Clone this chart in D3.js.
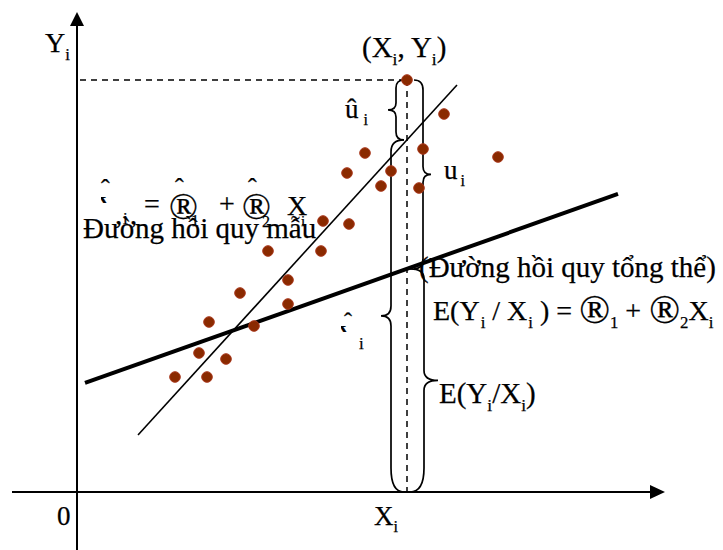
<!DOCTYPE html>
<html>
<head>
<meta charset="utf-8">
<script src="https://cdn.jsdelivr.net/npm/d3@7"></script>
<style>
  html, body { margin: 0; padding: 0; background: #fff; }
  svg { display: block; }
  text { font-family: "Liberation Serif", "Times New Roman", serif; fill: #000; stroke: #000; stroke-width: 0.25; }
</style>
</head>
<body>
<svg id="chart" width="723" height="550"></svg>
<script>
// Observed sample (X, Y) pairs
const sampleX = [330, 367, 288, 346, 421, 270, 314, 304, 342, 246, 272, 191, 244, 211, 163, 211, 132, 177, 122, 149, 98, 130];
const sampleY = [412, 378, 339, 343, 335, 319, 321, 306, 304, 271, 268, 241, 241, 212, 199, 188, 170, 166, 139, 133, 115, 115];

// Sample regression line (fitted) and population regression line
const sampleLineCoef = [-9.9, 1.097];      // intercept, slope
const sampleLineSpan = [61, 380];
const populationLineCoef = [106.2, 0.3546]; // intercept, slope
const populationLineSpan = [8, 541];

// Highlighted observation
const highlightX = 330;
const highlightY = 412;

// Axis extents
const xAxisSpan = [-65, 588];
const yAxisSpan = [-58, 480];

const svg = d3.select("#chart");
const x = d3.scaleLinear().domain([0, 600]).range([77, 677]);
const y = d3.scaleLinear().domain([0, 480]).range([492, 12]);

const fitted = (c, v) => c[0] + c[1] * v;
const yHat = fitted(sampleLineCoef, highlightX);
const yPop = fitted(populationLineCoef, highlightX);

// Axes with arrow heads
svg.append("line")
  .attr("x1", x(xAxisSpan[0])).attr("y1", y(0))
  .attr("x2", x(xAxisSpan[1]) - 8).attr("y2", y(0))
  .attr("stroke", "#000").attr("stroke-width", 2);
svg.append("path")
  .attr("d", `M${x(xAxisSpan[1])},${y(0)} L${x(xAxisSpan[1]) - 15},${y(0) - 7} L${x(xAxisSpan[1]) - 15},${y(0) + 7} Z`)
  .attr("fill", "#000");
svg.append("line")
  .attr("x1", x(0)).attr("y1", y(yAxisSpan[0]))
  .attr("x2", x(0)).attr("y2", y(yAxisSpan[1]) + 8)
  .attr("stroke", "#000").attr("stroke-width", 2);
svg.append("path")
  .attr("d", `M${x(0)},${y(yAxisSpan[1])} L${x(0) - 7},${y(yAxisSpan[1]) + 14} L${x(0) + 7},${y(yAxisSpan[1]) + 14} Z`)
  .attr("fill", "#000");

// Dashed guides to the highlighted observation
svg.append("line")
  .attr("x1", x(0) + 3).attr("y1", y(highlightY))
  .attr("x2", x(highlightX)).attr("y2", y(highlightY))
  .attr("stroke", "#000").attr("stroke-width", 1.5).attr("stroke-dasharray", "6,5");
svg.append("line")
  .attr("x1", x(highlightX)).attr("y1", y(highlightY))
  .attr("x2", x(highlightX)).attr("y2", y(0))
  .attr("stroke", "#000").attr("stroke-width", 1.5).attr("stroke-dasharray", "6,5");

// Regression lines
const line = d3.line().x(d => x(d[0])).y(d => y(d[1]));
svg.append("path")
  .attr("d", line(sampleLineSpan.map(v => [v, fitted(sampleLineCoef, v)])))
  .attr("stroke", "#000").attr("stroke-width", 1.6).attr("fill", "none");
svg.append("path")
  .attr("d", line(populationLineSpan.map(v => [v, fitted(populationLineCoef, v)])))
  .attr("stroke", "#000").attr("stroke-width", 4).attr("fill", "none");

// Curly braces
function brace(xh, ya, yb, dir, w1, w2, r1, r2, rm) {
  const ym = (ya + yb) / 2;
  const xb = xh + dir * w1;
  const xt = xb + dir * w2;
  return `M${xh},${ya} Q${xb},${ya} ${xb},${ya + r1} L${xb},${ym - rm} ` +
         `Q${xb},${ym} ${xt},${ym} Q${xb},${ym} ${xb},${ym + rm} ` +
         `L${xb},${yb - r2} Q${xb},${yb} ${xh},${yb}`;
}
const braceG = svg.append("g").attr("fill", "none").attr("stroke", "#000").attr("stroke-width", 1.7);
braceG.append("path").attr("d", brace(x(highlightX) - 3, y(highlightY), y(yHat), -1, 8, 8, 8, 8, 7));
braceG.append("path").attr("d", brace(x(highlightX) + 7, y(highlightY), y(yPop), 1, 9, 8, 10, 10, 8));
braceG.append("path").attr("d", brace(x(highlightX) - 3, y(yHat), y(0), -1, 13, 10, 12, 24, 10));
braceG.append("path").attr("d", brace(x(highlightX) + 3, y(yPop), y(0), 1, 14, 14, 10, 24, 10));

// Observations
svg.append("g").selectAll("circle")
  .data(sampleX.map((v, i) => [v, sampleY[i]]))
  .join("circle")
  .attr("cx", d => x(d[0])).attr("cy", d => y(d[1]))
  .attr("r", 5.3)
  .attr("fill", "#8a2a00").attr("stroke", "#a8361a").attr("stroke-width", 1);

// Text helper: parts are [string, kind, dx] with kind "s" = subscript, "r" = enlarged symbol
function rich(px, py, parts, size, attrs = {}) {
  const t = svg.append("text").attr("x", px).attr("y", py).attr("font-size", size);
  Object.entries(attrs).forEach(([k, v]) => t.attr(k, v));
  let shift = 0;
  parts.forEach(([s, kind, dx]) => {
    const ts = t.append("tspan").text(s);
    const want = kind === "s" ? size * 0.27 : (kind === "r" ? size * 0.12 : 0);
    if (want !== shift) { ts.attr("dy", want - shift); shift = want; }
    if (kind === "s") ts.attr("font-size", size * 0.6);
    if (kind === "r") ts.attr("font-size", size * 1.45);
    if (dx) ts.attr("dx", dx);
  });
  return t;
}

rich(45, 52, [["Y"], ["i", "s"]], 28);
rich(362, 57, [["(X"], ["i", "s"], [", Y"], ["i", "s"], [")"]], 29);
rich(345, 118, [["û"], ["i", "s", 5]], 27);
rich(444, 179, [["u"], ["i", "s", 3]], 27);

// Sample regression equation
rich(101, 197, [["ˆ"]], 26);
svg.append("clipPath").attr("id", "yhatClip")
  .append("rect").attr("x", 101).attr("y", 189).attr("width", 6).attr("height", 14);
rich(98, 214, [["Y"]], 26, { "clip-path": "url(#yhatClip)" });
rich(123, 224, [["i"]], 17);
rich(144, 213, [["="]], 28);
rich(169, 219, [["®"]], 38);
rich(175, 196, [["ˆ"]], 26);
rich(191, 226, [["1"]], 16);
rich(219, 213, [["+"]], 28);
rich(242, 219, [["®"]], 38);
rich(248, 196, [["ˆ"]], 26);
rich(262, 227, [["2"]], 16);
rich(287, 215, [["X"]], 28);
rich(301, 226, [["i"]], 15);
rich(83, 238, [["Đường hồi quy mẫu"]], 29);

rich(419, 277, [["(Đường hồi quy tổng thể)"]], 29);
rich(433, 320, [["E(Y"], ["i", "s", 1], [" / X"], ["i", "s", 1], [" ) = "], ["®", "r"], ["1", "s"], [" + "], ["®", "r", 1], ["2", "s"], ["X"], ["i", "s"]], 28);

// Broken Ŷ label beside the large brace
svg.append("clipPath").attr("id", "yhatClip2")
  .append("rect").attr("x", 341).attr("y", 318).attr("width", 6).attr("height", 14);
rich(338, 343, [["Y"]], 26, { "clip-path": "url(#yhatClip2)" });
rich(344, 329, [["ˆ"]], 24);
rich(359, 349, [["i"]], 17);

rich(439, 403, [["E(Y"], ["i", "s"], ["/X"], ["i", "s"], [")"]], 29);
rich(57, 525, [["0"]], 27);
rich(374, 525, [["X"], ["i", "s"]], 27);
</script>
</body>
</html>
